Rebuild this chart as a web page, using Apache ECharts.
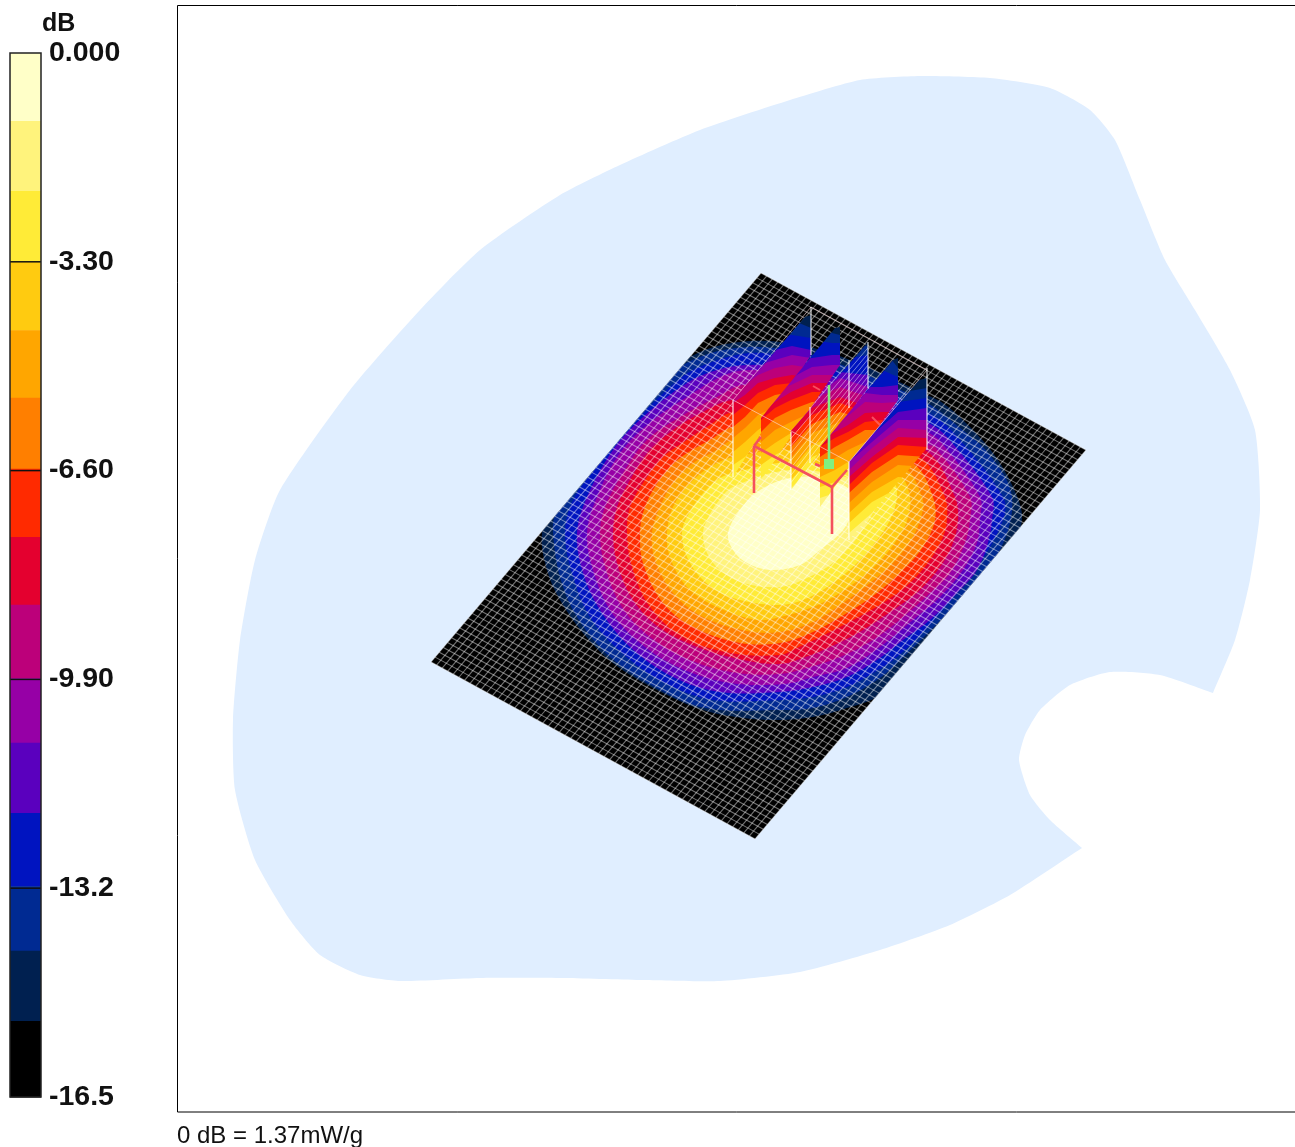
<!DOCTYPE html>
<html><head><meta charset="utf-8">
<style>html,body{margin:0;padding:0;background:#fff}#c{width:1295px;height:1147px}</style>
<script src="https://cdn.jsdelivr.net/npm/echarts@6/dist/echarts.min.js"></script>
</head><body><div id="c"></div>
<script>
// dB scale
const scaleTicks = ['-16.5','-13.2','-9.90','-6.60','-3.30','0.000'];
const scaleValues = [-13.2,-9.9,-6.6,-3.3];
const bandTops = [0,-1.075,-2.18,-3.29,-4.38,-5.45,-6.57,-7.65,-8.72,-9.88,-10.9,-12.01,-13.17,-14.19,-15.3];
const bandColors = ['#FFFFC8','#FFF37C','#FFEB37','#FFCB10','#FFA600','#FF7F00','#FF2A00','#E4002F','#BC007A','#9600A6','#5A00BE','#0014C0','#002A92','#002050','#000000'];

// phantom outline and measurement plane
const phantom = [[920,76],[860,80],[790,100],[700,130],[620,165],[560,195],[480,250],[420,310],[350,390],[280,490],[255,560],[240,640],[233,720],[235,790],[255,860],[290,920],[320,955],[360,975],[400,981],[480,978],[560,978],[640,980],[720,981],[800,972],[880,950],[950,925],[1010,895],[1082,848],[1082,848],[1050,820],[1030,795],[1019,760],[1025,735],[1040,710],[1070,685],[1110,672],[1160,675],[1213,693],[1213,693],[1235,640],[1250,580],[1260,510],[1255,430],[1230,370],[1195,310],[1165,260],[1140,200],[1115,140],[1090,110],[1050,88],[990,78]];
const plane = [[761,273],[1086,450],[755,839],[431,662]];

// iso-dB contours on the plane, outermost first (contour14 bounds band 14 ... contour1 bounds band 1)
const contour14 = [[542,533],[547,570],[560,600],[583,633],[613,663],[657,690],[703,710],[743,718],[780,720],[813,717],[847,708],[880,695],[950,630],[1005,565],[1022,520],[1013,487],[993,453],[965,422],[943,403],[927,395],[850,360],[800,345],[750,341],[700,352],[650,385],[590,450],[555,505]];
const contour13 = [[553,533],[560,577],[577,617],[610,657],[655,687],[705,708],[780,710],[813,708],[847,697],[877,680],[893,667],[960,600],[1000,550],[1012,497],[990,455],[959,427],[927,403],[850,368],[800,352],[747,347],[697,358],[655,385],[610,430],[573,480],[555,515]];
const contour12 = [[565,533],[572,573],[590,617],[622,653],[663,682],[713,700],[780,700],[813,697],[847,687],[873,673],[897,657],[925,630],[975,570],[1003,520],[1003,497],[953,432],[927,412],[850,376],[800,360],[750,353],[697,368],[670,387],[637,420],[597,467],[573,500]];
const contour11 = [[577,533],[583,573],[600,610],[630,647],[673,677],[720,692],[780,692],[813,687],[847,677],[877,660],[903,640],[930,620],[957,593],[977,570],[988,543],[992,520],[992,497],[947,437],[927,422],[850,385],[800,368],[747,365],[717,370],[687,383],[643,417],[613,450],[587,497]];
const contour10 = [[587,533],[593,570],[610,610],[640,643],[680,668],[730,683],[785,684],[813,677],[847,668],[880,647],[913,620],[940,597],[963,570],[977,543],[980,520],[980,497],[941,442],[927,432],[850,395],[800,375],[747,370],[720,377],[687,397],[653,420],[620,453],[597,497]];
const contour9 = [[600,533],[605,567],[622,607],[650,637],[690,660],[737,673],[780,674],[807,668],[840,657],[873,640],[903,617],[930,593],[950,573],[965,543],[970,520],[970,497],[935,447],[927,445],[850,410],[800,390],[743,385],[717,397],[680,417],[647,440],[623,473],[605,507]];
const contour8 = [[613,533],[617,563],[633,600],[660,628],[700,648],[743,660],[780,664],[803,658],[830,647],[863,630],[893,610],[920,590],[940,567],[953,543],[958,520],[955,497],[928,452],[850,420],[790,400],[732,400],[697,415],[673,430],[650,450],[630,480],[617,507]];
const contour7 = [[627,533],[632,567],[650,607],[683,637],[730,653],[780,655],[797,648],[820,637],[853,620],[883,603],[910,583],[930,560],[943,537],[947,520],[945,497],[921,458],[850,430],[790,412],[733,412],[707,427],[687,440],[663,457],[643,483],[630,507]];
const contour6 = [[640,533],[643,563],[663,603],[693,627],[740,643],[780,643],[813,632],[847,613],[877,593],[903,570],[923,547],[935,520],[933,497],[914,464],[850,440],[790,425],[733,427],[710,440],[687,453],[670,467],[653,490],[643,513]];
const contour5 = [[652,533],[655,560],[673,593],[703,617],[747,631],[780,632],[813,622],[843,603],[870,583],[893,563],[913,537],[923,510],[922,497],[907,470],[850,450],[790,438],[733,440],[717,450],[693,463],[673,483],[660,507]];
const contour4 = [[667,533],[670,557],[687,587],[717,607],[757,620],[780,617],[813,607],[840,593],[867,573],[887,553],[903,530],[908,517],[910,497],[900,476],[850,460],[790,450],[733,457],[710,467],[690,483],[673,507]];
const contour3 = [[682,533],[687,557],[703,580],[730,597],[780,605],[810,597],[837,580],[860,560],[877,540],[890,520],[897,497],[893,482],[850,470],[790,462],[733,473],[717,480],[700,497],[687,517]];
const contour2 = [[703,533],[707,553],[720,570],[743,583],[780,587],[807,578],[833,563],[853,543],[867,523],[880,500],[884,490],[850,478],[790,470],[733,487],[717,503],[707,520]];
const contour1 = [[728,533],[733,550],[747,563],[770,570],[800,565],[820,550],[843,530],[852,510],[850,490],[820,478],[790,478],[760,490],[740,510]];
const contours = [contour14,contour13,contour12,contour11,contour10,contour9,contour8,contour7,contour6,contour5,contour4,contour3,contour2,contour1];

// vertical slices: column x values, outline, then the band edge heights from band 13 to band 1
const slice1X = [733,745,758,775,792,811];
const slice1Outline = [[733,400],[805,317],[811,315],[811,355],[733,477]];
const slice1Bands = [[313,313,313,313,320,328],[320,320,333,337,335,338],[333,333,343,350,346,350],[367,367,365,360,355,358],[395,385,375,368,365,368],[403,395,383,378,375,378],[415,405,393,385,383,387],[427,417,403,395,392,395],[438,428,415,407,403,407],[452,442,430,418,415,418],[465,457,443,432,428,432],[477,470,457,445,442,445],[490,483,470,458,455,458]];
const slice2X = [761,775,791,812,832,840];
const slice2Outline = [[761,418],[835,328],[840,327],[840,365],[761,480]];
const slice2Bands = [[317,317,317,327,333,335],[320,320,320,340,343,343],[333,340,360,358,355,355],[367,383,378,367,365,365],[403,390,385,375,375,375],[415,402,392,383,383,383],[420,408,400,392,392,392],[432,418,410,402,402,402],[442,430,422,412,412,412],[453,443,433,423,423,423],[465,455,447,437,437,437],[478,467,460,450,450,450],[487,480,472,463,463,463]];
const slice3X = [791,812,840,868];
const slice3Outline = [[791,431],[868,342],[868,388],[791,490]];
const slice3Bands = [[333,333,333,347],[350,350,360,355],[367,367,372,375],[400,397,378,387],[413,400,387,397],[431,408,397,407],[437,415,403,413],[447,424,412,420],[458,433,422,430],[470,445,433,440],[480,457,445,450],[488,468,457,460],[500,480,468,470]];
const slice4X = [820,835,848,865,882,898];
const slice4Outline = [[820,447],[893,360],[898,358],[898,400],[820,507]];
const slice4Bands = [[347,347,347,347,347,368],[350,350,350,350,370,377],[363,363,380,387,387,385],[423,413,410,393,395,395],[430,427,416,402,403,402],[442,432,425,413,412,412],[447,438,432,422,420,420],[457,447,440,430,430,430],[467,458,450,442,442,442],[477,470,462,453,453,453],[487,482,473,465,465,465],[498,493,485,477,477,477],[507,503,497,488,488,488]];
const slice5X = [849,872,898,927];
const slice5Outline = [[849,462],[919,380],[927,378],[927,448],[849,540]];
const slice5Bands = [[347,347,393,388],[350,350,402,398],[363,435,412,408],[462,442,420,420],[470,448,428,430],[477,457,437,438],[485,463,445,447],[493,472,455,457],[503,482,465,467],[513,492,477,478],[523,502,488,490],[533,513,500,502],[543,525,512,513]];

// wire box and device
const boxWires = [[[733,400],[849,462]],[[811,307],[927,370]],[[849,462],[927,370]],[[733,400],[811,307]]];
const whitePosts = [[[733,400],[733,477]],[[811,307],[811,355]],[[791,432],[791,490]],[[810,407],[810,463]],[[849,360],[849,408]],[[868,342],[868,388]],[[849,462],[849,540]],[[927,368],[927,450]]];
const redWires = [[[754,446],[754,493]],[[754,446],[832,487]],[[832,487],[832,534]],[[754,446],[761,437]],[[832,487],[847,470]],[[815,464],[820,466]]];
const paleRedWires = [[[813,386],[820,390]],[[872,417],[880,425]]];
const greenStem = [[829,385],[829,464]];
const greenMark = [829,464];
const frame = [[1296,5.5],[177.5,5.5],[177.5,1112],[1296,1112]];

const MESH_A = 80, MESH_B = 58;
const sliceDefs = [[slice1X,slice1Outline,slice1Bands],[slice2X,slice2Outline,slice2Bands],[slice3X,slice3Outline,slice3Bands],[slice4X,slice4Outline,slice4Bands],[slice5X,slice5Outline,slice5Bands]];

function pts(api, list){ return list.map(p => api.coord(p)); }
function layer(z, renderItem, n){
  return {type:'custom', xAxisIndex:0, yAxisIndex:0, coordinateSystem:'cartesian2d', z, silent:true, clip:false,
    animation:false, data:Array.from({length:n||1},(_, i)=>[i]), encode:{x:0,y:0}, renderItem};
}
function lerp(a,b,t){ return [a[0]+(b[0]-a[0])*t, a[1]+(b[1]-a[1])*t]; }
function lineEl(api,a,b,style){
  const p=api.coord(a), q=api.coord(b);
  return {type:'line', silent:true, shape:{x1:p[0],y1:p[1],x2:q[0],y2:q[1]}, style};
}

const series = [
  layer(1,(p,api)=>({type:'polygon',shape:{points:pts(api,phantom),smooth:0.2},style:{fill:'#E0EEFF'}})),
  layer(2,(p,api)=>({type:'polygon',shape:{points:pts(api,plane)},style:{fill:'#000'}})),
  layer(3,(p,api)=>({type:'polygon',shape:{points:pts(api,contours[p.dataIndex]),smooth:0.35},
      style:{fill:bandColors[13-p.dataIndex]},
      clipPath:{type:'polygon',shape:{points:pts(api,plane)}}}),contours.length),
  layer(4,(p,api)=>{
    const ch=[]; const st={stroke:'rgba(255,255,255,0.45)',lineWidth:1.1};
    for(let i=0;i<=MESH_A;i++){const t=i/MESH_A; ch.push(lineEl(api,lerp(plane[0],plane[3],t),lerp(plane[1],plane[2],t),st));}
    for(let i=0;i<=MESH_B;i++){const t=i/MESH_B; ch.push(lineEl(api,lerp(plane[0],plane[1],t),lerp(plane[3],plane[2],t),st));}
    return {type:'group',children:ch};
  }),
  layer(5,(p,api)=>{
    const [xs,outline,bands]=sliceDefs[p.dataIndex];
    const clip={type:'polygon',shape:{points:pts(api,outline)}};
    const ch=[];
    for(let k=-1;k<bands.length;k++){
      const top = k<0 ? xs.map(x=>[x,200]) : xs.map((x,i)=>[x,bands[k][i]]);
      const bot = k<bands.length-1 ? xs.map((x,i)=>[x,bands[k+1][i]+1]) : xs.map(x=>[x,800]);
      ch.push({type:'polygon',shape:{points:pts(api,top.concat(bot.reverse()))},style:{fill:bandColors[12-k]},clipPath:clip});
    }
    if(p.dataIndex===2){
      const o=outline, st={stroke:'rgba(255,255,255,0.45)',lineWidth:1};
      for(let i=1;i<8;i++){ch.push(lineEl(api,lerp(o[0],o[3],i/8),lerp(o[1],o[2],i/8),st));}
    }
    return {type:'group',children:ch};
  },sliceDefs.length),
  layer(6,(p,api)=>{
    const ch=[];
    boxWires.forEach(w=>ch.push(lineEl(api,w[0],w[1],{stroke:'rgba(255,225,225,0.6)',lineWidth:1})));
    whitePosts.forEach(w=>ch.push(lineEl(api,w[0],w[1],{stroke:'rgba(255,255,255,0.85)',lineWidth:1.2})));
    paleRedWires.forEach(w=>ch.push(lineEl(api,w[0],w[1],{stroke:'rgba(255,110,120,0.7)',lineWidth:2})));
    redWires.forEach(w=>ch.push(lineEl(api,w[0],w[1],{stroke:'#F4505C',lineWidth:2.6})));
    ch.push(lineEl(api,greenStem[0],greenStem[1],{stroke:'#80F080',lineWidth:2.6}));
    const c=api.coord(greenMark);
    ch.push({type:'rect',shape:{x:c[0]-5,y:c[1]-5,width:10,height:10},style:{fill:'#80F080'}});
    return {type:'group',children:ch};
  }),
  layer(7,(p,api)=>({type:'polyline',shape:{points:pts(api,frame)},style:{stroke:'#000',lineWidth:1,fill:null}})),
  {type:'custom',xAxisIndex:1,yAxisIndex:1,coordinateSystem:'cartesian2d',z:2,silent:true,animation:false,clip:false,
    data:bandTops.map((t,i)=>[0,t,i]),encode:{x:0,y:1},
    renderItem:(p,api)=>{
      const i=p.dataIndex, top=bandTops[i], bot=i<bandTops.length-1?bandTops[i+1]:-16.5;
      const a=api.coord([0,top]), b=api.coord([1,bot]);
      return {type:'rect',shape:{x:a[0],y:a[1],width:b[0]-a[0],height:b[1]-a[1]+0.5},style:{fill:bandColors[i]}};
    }},
  {type:'custom',xAxisIndex:1,yAxisIndex:1,coordinateSystem:'cartesian2d',z:3,silent:true,animation:false,clip:false,
    data:scaleValues.map(v=>[0,v]),encode:{x:0,y:1},
    renderItem:(p,api)=>{
      const v=scaleValues[p.dataIndex], a=api.coord([0,v]), b=api.coord([1,v]);
      return {type:'line',shape:{x1:a[0],y1:a[1],x2:b[0],y2:b[1]},style:{stroke:'#111',lineWidth:1.5}};
    }},
  {type:'custom',xAxisIndex:1,yAxisIndex:1,coordinateSystem:'cartesian2d',z:4,silent:true,animation:false,clip:false,
    data:[[0,0]],encode:{x:0,y:1},
    renderItem:(p,api)=>{
      const a=api.coord([0,0]), b=api.coord([1,-16.5]);
      return {type:'rect',shape:{x:a[0],y:a[1],width:b[0]-a[0],height:b[1]-a[1]},style:{fill:null,stroke:'#222',lineWidth:1.5}};
    }}
];

const chart = echarts.init(document.getElementById('c'),null,{renderer:'canvas',width:1295,height:1147});
chart.setOption({
  animation:false, backgroundColor:'#fff',
  title:[
    {text:'dB',left:42,top:12,padding:0,textStyle:{fontFamily:'Liberation Sans',fontWeight:'bold',fontSize:25,color:'#111'}},
    {text:'0 dB = 1.37mW/g',left:177,top:1124,padding:0,textStyle:{fontFamily:'Liberation Sans',fontWeight:'normal',fontSize:24,color:'#111'}}
  ],
  grid:[
    {left:0,top:0,width:1295,height:1147,containLabel:false},
    {left:10,top:53,width:31,height:1044,containLabel:false}
  ],
  xAxis:[
    {gridIndex:0,type:'value',min:0,max:1295,show:false},
    {gridIndex:1,type:'value',min:0,max:1,show:false}
  ],
  yAxis:[
    {gridIndex:0,type:'value',min:0,max:1147,inverse:true,show:false},
    {gridIndex:1,type:'value',min:-16.5,max:0,interval:3.3,position:'right',z:10,
     axisLine:{show:false},splitLine:{show:false},axisTick:{show:false},
     axisLabel:{show:true,margin:8,padding:[6,0,0,0],fontFamily:'Liberation Sans',fontWeight:'bold',fontSize:28.5,color:'#111',
       formatter:(v,i)=>scaleTicks[i]}}
  ],
  series
});
</script></body></html>
